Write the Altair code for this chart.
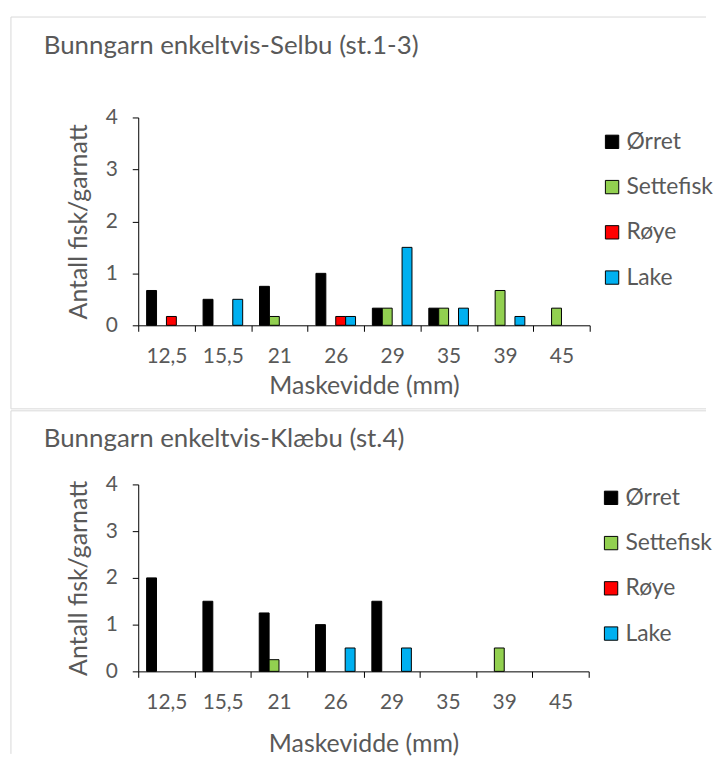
import altair as alt
import pandas as pd

categories = ["12,5", "15,5", "21", "26", "29", "35", "39", "45"]
series = ["Ørret", "Settefisk", "Røye", "Lake"]
colors = ["#000000", "#92D050", "#FF0000", "#00B0F0"]

selbu_title = "Bunngarn enkeltvis-Selbu (st.1-3)"
selbu_orret = [0.67, 0.5, 0.75, 1.0, 0.33, 0.33, 0, 0]
selbu_settefisk = [0, 0, 0.17, 0, 0.33, 0.33, 0.67, 0.33]
selbu_roye = [0.17, 0, 0, 0.17, 0, 0, 0, 0]
selbu_lake = [0, 0.5, 0, 0.17, 1.5, 0.33, 0.17, 0]

klaebu_title = "Bunngarn enkeltvis-Klæbu (st.4)"
klaebu_orret = [2.0, 1.5, 1.25, 1.0, 1.5, 0, 0, 0]
klaebu_settefisk = [0, 0, 0.25, 0, 0, 0, 0.5, 0]
klaebu_roye = [0, 0, 0, 0, 0, 0, 0, 0]
klaebu_lake = [0, 0, 0, 0.5, 0.5, 0, 0, 0]

y_ticks = [0, 1, 2, 3, 4]

FONT = "Lato"
GREY = "#595959"
BORDER = "#d9d9d9"


def long_df(cols):
    rows = []
    for s, vals in zip(series, cols):
        for c, v in zip(categories, vals):
            rows.append({"Maskevidde": c, "Art": s, "Verdi": v})
    return pd.DataFrame(rows)


def panel(df, title, w, h, legend_y, x_title_pad, title_y, rules):
    bars = alt.Chart(df).transform_filter("datum.Verdi > 0").mark_bar(
        stroke="black", strokeWidth=1
    ).encode(
        x=alt.X("Maskevidde:N", sort=categories,
                scale=alt.Scale(domain=categories, paddingInner=0, paddingOuter=0),
                axis=alt.Axis(title="Maskevidde (mm)", labelAngle=0, tickBand="extent",
                              tickSize=6, labelPadding=14, titlePadding=x_title_pad)),
        xOffset=alt.XOffset("Art:N", sort=series,
                            scale=alt.Scale(domain=series, paddingInner=0, paddingOuter=0.85)),
        y=alt.Y("Verdi:Q", scale=alt.Scale(domain=[0, 4], nice=False),
                axis=alt.Axis(title="Antall fisk/garnatt", values=y_ticks,
                              grid=False, tickSize=6, labelPadding=15, titlePadding=14)),
        color=alt.Color("Art:N", sort=series,
                        scale=alt.Scale(domain=series, range=colors),
                        legend=alt.Legend(title=None, orient="none", legendX=w + 11,
                                          legendY=legend_y, symbolType="square",
                                          symbolSize=180, symbolStrokeColor="black",
                                          symbolStrokeWidth=1, labelFontSize=23,
                                          labelColor=GREY, labelFont=FONT,
                                          rowPadding=21.5, labelOffset=3)),
    )
    one = pd.DataFrame({"a": [0]})
    layers = [bars]
    layers.append(alt.Chart(one).mark_text(
        text=title, align="left", baseline="middle", font=FONT, fontSize=26, color=GREY
    ).encode(x=alt.value(-95), y=alt.value(title_y)))
    for r in rules:
        layers.append(alt.Chart(one).mark_rule(color=BORDER, strokeWidth=1).encode(**r))
    return alt.layer(*layers).properties(width=w, height=h)


p1 = panel(long_df([selbu_orret, selbu_settefisk, selbu_roye, selbu_lake]),
           selbu_title, 454, 209, 13, 8, -72,
           [dict(x=alt.value(-128), x2=alt.value(571), y=alt.value(-101)),
            dict(x=alt.value(-128), y=alt.value(-101), y2=alt.value(293)),
            dict(x=alt.value(-128), x2=alt.value(571), y=alt.value(293))])

p2 = panel(long_df([klaebu_orret, klaebu_settefisk, klaebu_roye, klaebu_lake]),
           klaebu_title, 453, 188, 2, 20, -46,
           [dict(x=alt.value(-128), x2=alt.value(571), y=alt.value(-74)),
            dict(x=alt.value(-128), y=alt.value(-74), y2=alt.value(271))])

chart = alt.vconcat(p1, p2, spacing=0).resolve_scale(
    x="independent", y="independent", color="independent", xOffset="independent"
).resolve_legend(color="independent").properties(
    padding={"left": 10, "top": 14, "right": 0, "bottom": 0}
).configure_view(stroke=None).configure_axis(
    labelFont=FONT, labelFontSize=21, labelColor=GREY,
    titleFont=FONT, titleFontSize=25, titleColor=GREY, titleFontWeight="normal",
    domainColor="black", tickColor="black", domainWidth=1, tickWidth=1,
)

chart.save("out.html", embed_options={"renderer": "svg", "actions": False})
